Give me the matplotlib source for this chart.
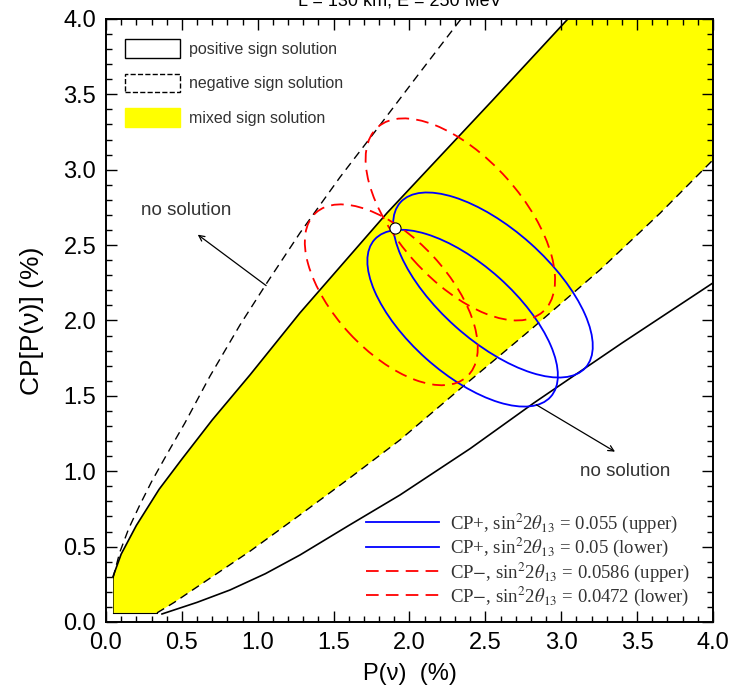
import numpy as np
import matplotlib
matplotlib.use('Agg')
import matplotlib.pyplot as plt
from matplotlib.patches import Ellipse, Patch
from matplotlib.lines import Line2D

plt.rcParams['font.family'] = ['Liberation Sans', 'DejaVu Sans']
plt.rcParams['mathtext.fontset'] = 'stix'

# boundary curves
neg_up_x = [0.046, 0.09, 0.15, 0.22, 0.30, 0.40, 0.52, 0.685, 0.883, 1.061, 1.278, 1.542, 1.786, 2.05, 2.34]
neg_up_y = [0.29, 0.46, 0.62, 0.77, 0.93, 1.11, 1.32, 1.63, 1.97, 2.25, 2.58, 2.95, 3.27, 3.62, 4.0]

pos_up_x = [0.046, 0.10, 0.20, 0.35, 0.50, 0.70, 0.95, 1.278, 1.852, 2.55, 3.044]
pos_up_y = [0.30, 0.45, 0.64, 0.88, 1.08, 1.34, 1.64, 2.05, 2.713, 3.463, 4.0]

neg_lo_x = [0.336, 0.45, 0.619, 0.95, 1.278, 1.6, 1.937, 2.379, 2.8, 3.255, 3.65, 4.0]
neg_lo_y = [0.06, 0.13, 0.245, 0.47, 0.71, 0.95, 1.207, 1.585, 1.94, 2.335, 2.71, 3.065]

pos_lo_x = [0.369, 0.6, 0.817, 1.05, 1.278, 1.6, 1.937, 2.4, 2.82, 3.4, 4.0]
pos_lo_y = [0.053, 0.13, 0.212, 0.32, 0.444, 0.64, 0.842, 1.15, 1.453, 1.85, 2.249]

# ellipses: center x, center y, semi-major, semi-minor, angle (deg)
ell_cx = [2.55, 2.35, 2.335, 1.88]
ell_cy = [2.235, 2.015, 2.67, 2.17]
ell_a = [0.82, 0.78, 0.819, 0.737]
ell_b = [0.37, 0.36, 0.41, 0.376]
ell_ang = [-42, -42, -48.4, -47.5]
ell_col = ['blue', 'blue', 'red', 'red']
ell_ls = ['-', '-', (0, (7, 4)), (0, (7, 4))]
ell_lab = [r'CP+, sin$^2$2$\theta_{13}$ = 0.055 (upper)',
           r'CP+, sin$^2$2$\theta_{13}$ = 0.05 (lower)',
           r'CP$-$, sin$^2$2$\theta_{13}$ = 0.0586 (upper)',
           r'CP$-$, sin$^2$2$\theta_{13}$ = 0.0472 (lower)']

best_x, best_y = 1.905, 2.614

fig = plt.figure(figsize=(7.34, 6.9), dpi=100)
ax = fig.add_axes([0.1444, 0.0986, 0.827, 0.874])

# yellow mixed region: between solid upper and dashed lower
fx = [0.046] + pos_up_x + [4.0, 4.0] + neg_lo_x[::-1][1:] + [0.046]
fy = [0.06] + pos_up_y + [4.0, 3.065] + neg_lo_y[::-1][1:] + [0.06]
ax.fill(fx, fy, color='yellow', lw=0, zorder=1)
ax.plot([0.046, 0.336], [0.06, 0.06], color='black', lw=0.8, zorder=2)
ax.plot([0.046, 0.046], [0.06, 0.3], color='black', lw=0.5, zorder=2)

ax.plot(neg_up_x, neg_up_y, color='black', lw=1.0, ls=(0, (6, 4)), zorder=2)
ax.plot(neg_lo_x, neg_lo_y, color='black', lw=1.0, ls=(0, (6, 4)), zorder=2)
ax.plot(pos_up_x, pos_up_y, color='black', lw=1.2, zorder=2)
ax.plot(pos_lo_x, pos_lo_y, color='black', lw=1.2, zorder=2)

for i in range(4):
    e = Ellipse((ell_cx[i], ell_cy[i]), 2 * ell_a[i], 2 * ell_b[i], angle=ell_ang[i],
                fill=False, edgecolor=ell_col[i], lw=1.3, ls=ell_ls[i], zorder=3)
    ax.add_patch(e)

ax.plot([best_x], [best_y], 'o', ms=8, mfc='white', mec='black', mew=0.8, zorder=5)

# no solution arrows
ax.annotate('', xy=(0.59, 2.58), xytext=(1.07, 2.22),
            arrowprops=dict(arrowstyle='->', color='black', lw=0.9), zorder=4)
ax.text(0.53, 2.73, 'no solution', ha='center', va='center', fontsize=13.5, color='#333333')
ax.annotate('', xy=(3.37, 1.12), xytext=(2.82, 1.45),
            arrowprops=dict(arrowstyle='->', color='black', lw=0.9), zorder=4)
ax.text(3.42, 1.0, 'no solution', ha='center', va='center', fontsize=13.5, color='#333333')

# legends
h1 = [Patch(facecolor='white', edgecolor='black', lw=1.0),
      Patch(facecolor='white', edgecolor='black', lw=1.0, ls='--'),
      Patch(facecolor='yellow', edgecolor='yellow')]
leg1 = ax.legend(h1, ['positive sign solution', 'negative sign solution', 'mixed sign solution'],
                 loc='upper left', bbox_to_anchor=(0.008, 0.99), frameon=False, fontsize=11.5,
                 handlelength=3.4, handleheight=1.4, labelspacing=1.0, handletextpad=0.6,
                 labelcolor='#333333')
ax.add_artist(leg1)

h2 = [Line2D([], [], color=ell_col[i], lw=1.3, ls=ell_ls[i]) for i in range(4)]
ax.legend(h2, ell_lab, loc='lower right', bbox_to_anchor=(0.99, -0.005), frameon=False,
          prop={'family': 'Liberation Serif', 'size': 13.5}, handlelength=3.9,
          labelspacing=0.05, handletextpad=0.6, labelcolor='#333333')

ax.set_xlim(0, 4)
ax.set_ylim(0, 4)
ax.set_xticks(np.arange(0, 4.01, 0.5))
ax.set_yticks(np.arange(0, 4.01, 0.5))
ax.set_xticks(np.arange(0, 4.01, 0.1), minor=True)
ax.set_yticks(np.arange(0, 4.01, 0.1), minor=True)
ax.tick_params(which='both', direction='in', top=True, right=True, width=1.0)
ax.tick_params(which='major', length=8, labelsize=17, pad=7)
ax.tick_params(which='minor', length=4)
for s in ax.spines.values():
    s.set_linewidth(1.4)

ax.set_xlabel('P(ν)  (%)', fontsize=17, labelpad=7)
ax.set_ylabel('CP[P(ν)] (%)', fontsize=19, labelpad=14)

fig.text(0.545, 1 - 5 / 690, 'L = 130 km, E = 250 MeV', ha='center', va='baseline', fontsize=13)

fig.savefig('out.png', dpi=100)
